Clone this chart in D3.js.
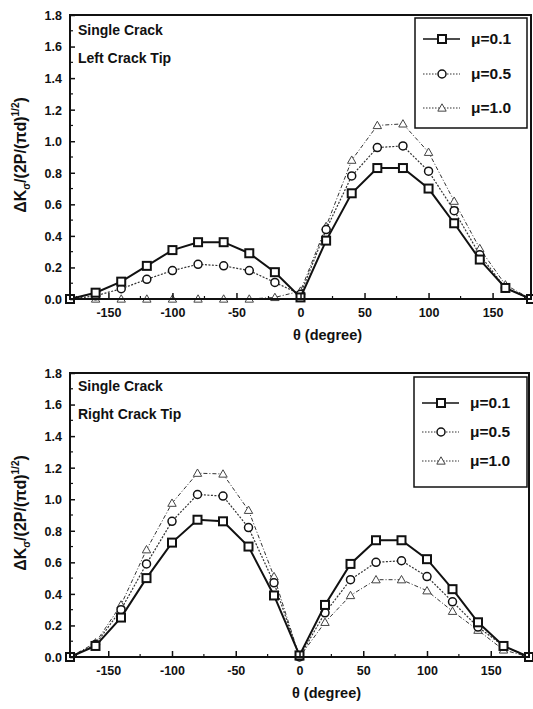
<!DOCTYPE html>
<html>
<head>
<meta charset="utf-8">
<script src="https://cdnjs.cloudflare.com/ajax/libs/d3/7.8.5/d3.min.js"></script>
<style>
  body { margin: 0; background: #fff; }
  text { font-family: "Liberation Sans", Arial, sans-serif; font-weight: bold; fill: #111; }
</style>
</head>
<body>
<script>
// angles, degree
var theta = [-180, -160, -140, -120, -100, -80, -60, -40, -20, 0, 20, 40, 60, 80, 100, 120, 140, 160, 180];

// left crack tip
var leftMu01 = [0, 0.04, 0.11, 0.21, 0.31, 0.36, 0.36, 0.29, 0.17, 0.01, 0.37, 0.67, 0.83, 0.83, 0.70, 0.48, 0.25, 0.07, 0];
var leftMu05 = [0, 0.02, 0.065, 0.125, 0.18, 0.22, 0.21, 0.18, 0.105, 0.03, 0.44, 0.78, 0.96, 0.97, 0.81, 0.56, 0.28, 0.07, 0];
var leftMu10 = [0, 0, 0, 0, 0, 0, 0, 0, 0.01, 0.05, 0.46, 0.88, 1.10, 1.11, 0.93, 0.62, 0.32, 0.09, 0];

// right crack tip
var rightMu01 = [0, 0.07, 0.25, 0.50, 0.725, 0.87, 0.86, 0.70, 0.39, 0.01, 0.33, 0.59, 0.74, 0.74, 0.62, 0.43, 0.22, 0.07, 0];
var rightMu05 = [0, 0.08, 0.30, 0.59, 0.86, 1.03, 1.02, 0.82, 0.47, 0, 0.28, 0.49, 0.60, 0.61, 0.51, 0.35, 0.19, 0.07, 0];
var rightMu10 = [0, 0.09, 0.33, 0.68, 0.975, 1.165, 1.16, 0.93, 0.51, 0, 0.22, 0.39, 0.49, 0.49, 0.42, 0.29, 0.17, 0.045, 0];

var seriesNames = ["\u03bc=0.1", "\u03bc=0.5", "\u03bc=1.0"];
var xTicks = [-150, -100, -50, 0, 50, 100, 150];
var yTicks = [0, 0.2, 0.4, 0.6, 0.8, 1.0, 1.2, 1.4, 1.6, 1.8];

var w = 533, h = 709;
var svg = d3.select("body").append("svg").attr("width", w).attr("height", h);

// line / marker style per series
var styles = [
  { dash: null, width: 2, marker: "square" },
  { dash: "2,1.5", width: 1.2, marker: "circle" },
  { dash: "4,2,1,2", width: 1, marker: "triangle" }
];

function drawMarker(g, type, x, y) {
  if (type == "square") {
    g.append("rect").attr("x", x - 4).attr("y", y - 4).attr("width", 8).attr("height", 8)
      .attr("fill", "#fff").attr("stroke", "#111").attr("stroke-width", 2);
  } else if (type == "circle") {
    g.append("circle").attr("cx", x).attr("cy", y).attr("r", 4)
      .attr("fill", "#fff").attr("stroke", "#111").attr("stroke-width", 1.5);
  } else {
    var s = 4.2;
    g.append("path").attr("d", "M" + x + "," + (y - s) + "L" + (x + s) + "," + (y + s * 0.75) + "L" + (x - s) + "," + (y + s * 0.75) + "Z")
      .attr("fill", "#fff").attr("stroke", "#444").attr("stroke-width", 1);
  }
}

function drawPanel(p) {
  var x = d3.scaleLinear().domain([-180, 180]).range([p.left, p.right]);
  var y = d3.scaleLinear().domain([0, 1.8]).range([p.bottom, p.top]);
  var g = svg.append("g");

  // series
  var line = d3.line().x(function(d) { return x(d[0]); }).y(function(d) { return y(d[1]); });
  [2, 1, 0].forEach(function(k) {
    var pts = theta.map(function(t, i) { return [t, p.series[k][i]]; });
    g.append("path").datum(pts).attr("d", line).attr("fill", "none")
      .attr("stroke", k == 0 ? "#111" : "#333").attr("stroke-width", styles[k].width)
      .attr("stroke-dasharray", styles[k].dash);
    pts.forEach(function(d) { drawMarker(g, styles[k].marker, x(d[0]), y(d[1])); });
  });

  // frame
  g.append("rect").attr("x", p.left).attr("y", p.top).attr("width", p.right - p.left).attr("height", p.bottom - p.top)
    .attr("fill", "none").attr("stroke", "#111").attr("stroke-width", 2);

  // axes with inward ticks
  var xAxis = d3.axisBottom(x).tickValues(xTicks).tickSize(-6).tickPadding(9).tickFormat(function(d) { return String(d); });
  var ax = g.append("g").attr("transform", "translate(0," + p.bottom + ")").call(xAxis);
  var yAxis = d3.axisLeft(y).tickValues(yTicks).tickSize(-5).tickPadding(8).tickFormat(d3.format(".1f"));
  var ay = g.append("g").attr("transform", "translate(" + p.left + ",0)").call(yAxis);
  [ax, ay].forEach(function(a) {
    a.select(".domain").remove();
    a.selectAll("line").attr("stroke", "#111").attr("stroke-width", 1.5);
    a.selectAll("text").attr("font-size", "12.5px").attr("fill", "#111")
      .style("font-family", "'Liberation Sans', Arial, sans-serif").style("font-weight", "bold");
  });
  ay.selectAll("text").attr("dy", "0.35em");

  // minor ticks
  d3.range(-175, 180, 25).filter(function(v) { return v % 50 != 0; }).forEach(function(v) {
    g.append("line").attr("x1", x(v)).attr("x2", x(v)).attr("y1", p.bottom).attr("y2", p.bottom - 3)
      .attr("stroke", "#111").attr("stroke-width", 1.2);
  });
  d3.range(0.1, 1.8, 0.2).forEach(function(v) {
    g.append("line").attr("x1", p.left).attr("x2", p.left + 3).attr("y1", y(v)).attr("y2", y(v))
      .attr("stroke", "#111").attr("stroke-width", 1.2);
  });

  // x title
  g.append("text").attr("x", x(0) + 27).attr("y", p.bottom + 41).attr("text-anchor", "middle")
    .attr("font-size", "14.5px").text("\u03b8 (degree)");

  // y title
  var yt = g.append("text").attr("transform", "translate(" + (p.left - 44) + "," + ((p.top + p.bottom) / 2 - 2) + ") rotate(-90)")
    .attr("text-anchor", "middle").attr("font-size", "16px");
  yt.append("tspan").text("\u0394K");
  yt.append("tspan").attr("font-size", "10px").attr("dy", 4).text("\u03c3");
  yt.append("tspan").attr("dy", -4).text("/(2P/(\u03c0d)");
  yt.append("tspan").attr("font-size", "10px").attr("dy", -7).text("1/2");
  yt.append("tspan").attr("dy", 7).text(")");

  // annotations
  p.notes.forEach(function(t, i) {
    g.append("text").attr("x", p.left + 8).attr("y", p.noteY[i]).attr("font-size", "14px").text(t);
  });

  // legend
  var L = p.legend;
  g.append("rect").attr("x", L.x0).attr("y", L.y0).attr("width", L.x1 - L.x0).attr("height", L.y1 - L.y0)
    .attr("fill", "#fff").attr("stroke", "#111").attr("stroke-width", 1.5);
  seriesNames.forEach(function(name, k) {
    var ly = L.rows[k];
    g.append("line").attr("x1", L.x0 + 8).attr("x2", L.x0 + 45).attr("y1", ly).attr("y2", ly)
      .attr("stroke", k == 0 ? "#111" : "#333").attr("stroke-width", k == 0 ? 1.6 : 1.1)
      .attr("stroke-dasharray", k == 0 ? null : "1.5,1.5");
    drawMarker(g, styles[k].marker, L.x0 + 27, ly);
    g.append("text").attr("x", L.x0 + 56).attr("y", ly).attr("dy", "0.35em").attr("font-size", "15.5px").text(name);
  });
}

drawPanel({
  left: 70, right: 531, top: 15, bottom: 299,
  series: [leftMu01, leftMu05, leftMu10],
  notes: ["Single Crack", "Left Crack Tip"], noteY: [35, 63],
  legend: { x0: 415, x1: 527, y0: 18, y1: 128, rows: [39, 74, 108] }
});

drawPanel({
  left: 70, right: 529, top: 373, bottom: 657,
  series: [rightMu01, rightMu05, rightMu10],
  notes: ["Single Crack", "Right Crack Tip"], noteY: [391, 419],
  legend: { x0: 414, x1: 527, y0: 377, y1: 487, rows: [403, 432, 461] }
});
</script>
</body>
</html>
